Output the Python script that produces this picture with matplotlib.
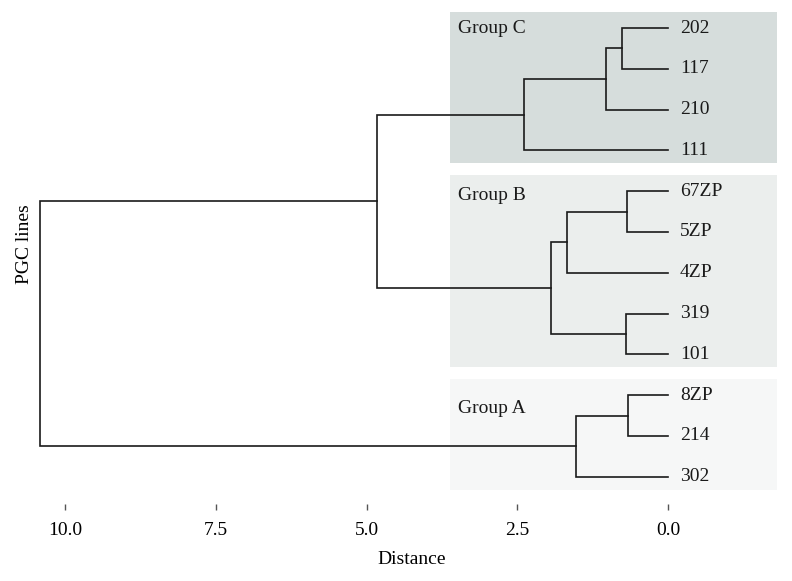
import numpy as np
from matplotlib import pyplot as plt

# leaves, top to bottom
leaves = ["202", "117", "210", "111", "67ZP", "5ZP", "4ZP", "319", "101", "8ZP", "214", "302"]

# merges: (child a, child b, distance); ids >= 12 are earlier merges
merge_a = [0, 12, 13, 4, 15, 7, 16, 14, 9, 20, 19]
merge_b = [1, 2, 3, 5, 6, 8, 17, 18, 10, 11, 21]
merge_h = [0.76, 1.03, 2.39, 0.68, 1.68, 0.70, 1.94, 4.83, 0.67, 1.53, 10.41]

# groups: name, first leaf, last leaf, colour
group_names = ["Group C", "Group B", "Group A"]
group_first = [0, 4, 9]
group_last = [3, 8, 11]
group_colors = ["#d6dddc", "#ebeeed", "#f6f7f7"]

x_ticks = [10.0, 7.5, 5.0, 2.5, 0.0]

plt.rcParams['font.family'] = ['Liberation Serif', 'DejaVu Serif']

fig = plt.figure(figsize=(7.92, 5.81), dpi=100)
ax = fig.add_axes([20 / 792, 1 - 504 / 581, 765 / 792, 499 / 581])

# shaded group boxes
box_left = 3.62
box_right = -1.81
for name, g0, g1, c in zip(group_names, group_first, group_last, group_colors):
    ax.fill_between([box_right, box_left], g0 - 0.39, g1 + 0.32, color=c, lw=0, zorder=0)

label_dy = [0.0, 0.1, 0.33]
for name, g0, dy in zip(group_names, group_first, label_dy):
    ax.text(3.48, g0 + dy, name, fontsize=14, va='center', ha='left', color='#1a1a1a')

# dendrogram links
pos_y = list(range(len(leaves)))
pos_x = [0.0] * len(leaves)
for a, b, h in zip(merge_a, merge_b, merge_h):
    ya, yb = pos_y[a], pos_y[b]
    xa, xb = pos_x[a], pos_x[b]
    ax.plot([xa, h, h, xb], [ya, ya, yb, yb], color='#1a1a1a', lw=1.2, solid_joinstyle='miter')
    pos_y.append((ya + yb) / 2)
    pos_x.append(h)

for i, name in enumerate(leaves):
    ax.text(-0.2, i, name, fontsize=14, va='center', ha='left', color='#1a1a1a')

ax.set_xlim(10.75, -1.94)
ax.set_ylim(11.667, -0.564)
ax.set_xticks(x_ticks)
ax.set_xticklabels(["%.1f" % v for v in x_ticks], fontsize=14)
ax.set_yticks([])
ax.tick_params(axis='x', length=4, width=1, color='#555555', pad=9)
for s in ax.spines.values():
    s.set_visible(False)
ax.set_xlabel('Distance', fontsize=14, labelpad=12)
ax.xaxis.set_label_coords(0.512, -0.095)
ax.set_ylabel('PGC lines', fontsize=14)
ax.yaxis.set_label_coords(0.017, 0.52)

plt.savefig('out.png', dpi=100)
